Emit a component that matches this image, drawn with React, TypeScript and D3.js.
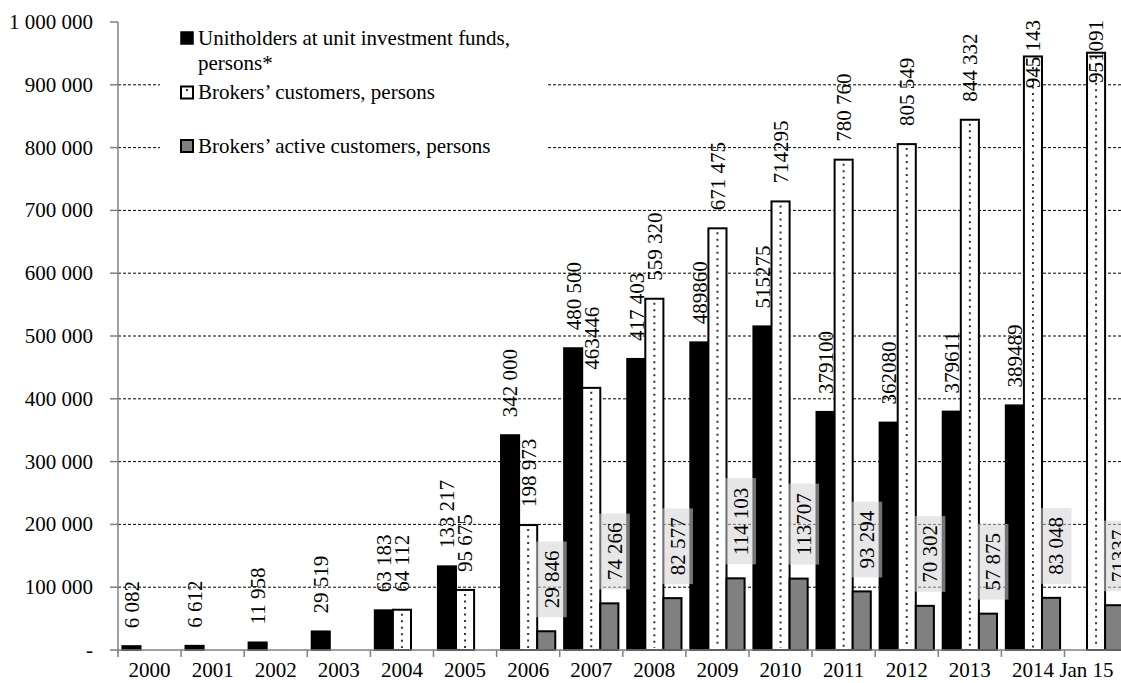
import React from 'react';
import * as d3 from 'd3';

const categories = ['2000', '2001', '2002', '2003', '2004', '2005', '2006', '2007', '2008', '2009', '2010', '2011', '2012', '2013', '2014', 'Jan 15'];

// bar heights
const unitholders = [6082, 6612, 11958, 29519, 63183, 133217, 342000, 480500, 463446, 489860, 515275, 379100, 362080, 379611, 389489, null];
const brokers = [null, null, null, null, 64112, 95675, 198973, 417403, 559320, 671475, 714295, 780760, 805549, 844332, 945143, 951091];
const active = [null, null, null, null, null, null, 29846, 74266, 82577, 114103, 113707, 93294, 70302, 57875, 83048, 71337];

// data labels as printed on the chart
const unitholderLabels = ['6 082', '6 612', '11 958', '29 519', '63 183', '133 217', '342 000', '480 500', '417 403', '489860', '515275', '379100', '362080', '379611', '389489', ''];
const brokerLabels = ['', '', '', '', '64 112', '95 675', '198 973', '463446', '559 320', '671 475', '714295', '780 760', '805 549', '844 332', '945 143', '951091'];
const activeLabels = ['', '', '', '', '', '', '29 846', '74 266', '82 577', '114 103', '113707', '93 294', '70 302', '57 875', '83 048', '71337'];

const legendNames = ['Unitholders at unit investment funds,', 'persons*', 'Brokers’ customers, persons', 'Brokers’ active customers, persons'];
const yTicks = [0, 100000, 200000, 300000, 400000, 500000, 600000, 700000, 800000, 900000, 1000000];

const FONT = '"Liberation Serif", "Times New Roman", serif';
const FS = 21;

// rough width of a digit string in Liberation Serif
const textLen = (s: string) => s.split('').reduce((a, c) => a + (c === ' ' ? 0.25 : 0.5), 0) * FS;

export default function App() {
  const W = 1121;
  const H = 683;
  const left = 118;
  const top = 22;
  const bottom = 650;
  const right = 1127.6;

  const x0 = d3.scaleBand<string>().domain(categories).range([left, right]).paddingInner(0.14).paddingOuter(0.07);
  const x1 = d3.scaleBand<string>().domain(['u', 'b', 'a']).range([0, x0.bandwidth()]);
  const y = d3.scaleLinear().domain([0, 1000000]).range([bottom, top]);
  const fmt = (v: number) => (v === 0 ? '-' : d3.format(',')(v).replace(/,/g, ' '));
  const step = x0.step();
  const boundary = (c: string) => (x0(c) as number) - step * x0.paddingOuter();

  const series = [
    { key: 'u', values: unitholders, labels: unitholderLabels, fill: '#000000' },
    { key: 'b', values: brokers, labels: brokerLabels, fill: '#ffffff' },
    { key: 'a', values: active, labels: activeLabels, fill: '#808080' },
  ];

  const bw = x1.bandwidth();

  return (
    <svg width={W} height={H} style={{ display: 'block' }} fontFamily={FONT}>
      <style>{'body{margin:0}'}</style>
      <rect width={W} height={H} fill="#fff" />

      {/* gridlines */}
      {yTicks.filter((t) => t > 0 && t < 1000000).map((t) => (
        <line key={t} x1={left} x2={W} y1={y(t)} y2={y(t)} stroke="#000" strokeWidth={1} strokeDasharray="3 2" />
      ))}

      {/* legend background hides gridlines */}
      <rect x={160} y={20} width={388} height={172} fill="#fff" />

      {/* bars */}
      {series.map((s) =>
        categories.map((c, i) => {
          const v = s.values[i];
          if (v == null) return null;
          const bx = (x0(c) as number) + (x1(s.key) as number);
          return (
            <g key={s.key + c}>
              <rect x={bx} y={y(v)} width={bw} height={bottom - y(v)} fill={s.fill} stroke="#000" strokeWidth={2} />
              {s.key === 'b' && (
                <line x1={bx + bw / 2} x2={bx + bw / 2} y1={y(v) + 4} y2={bottom - 2} stroke="#333" strokeWidth={2} strokeDasharray="2 4.5" />
              )}
            </g>
          );
        })
      )}

      {/* data labels */}
      {series.map((s) =>
        categories.map((c, i) => {
          const v = s.values[i];
          const lab = s.labels[i];
          if (v == null || !lab) return null;
          const cx = (x0(c) as number) + (x1(s.key) as number) + bw / 2;
          const len = textLen(lab);
          if (s.key === 'a') {
            const pad = 9;
            const boxBottom = y(v) - 14;
            const boxH = len + pad * 2;
            const bcx = cx + 5;
            return (
              <g key={'l' + s.key + c}>
                <rect x={bcx - 15.5} y={boxBottom - boxH} width={31} height={boxH} fill="#d4d4d4" fillOpacity={0.55} />
                <text transform={`translate(${bcx},${boxBottom - pad}) rotate(-90)`} dy="0.35em" fontSize={FS} fill="#000">
                  {lab}
                </text>
              </g>
            );
          }
          let startY = y(v) - 18;
          if (startY - len < 20) startY = 20 + len;
          return (
            <text key={'l' + s.key + c} transform={`translate(${cx},${startY}) rotate(-90)`} dy="0.35em" fontSize={FS} fill="#000">
              {lab}
            </text>
          );
        })
      )}

      {/* y axis */}
      <line x1={left} x2={left} y1={top} y2={bottom + 3} stroke="#808080" strokeWidth={1.5} />
      {yTicks.map((t) => (
        <g key={'yt' + t}>
          <line x1={left - 8} x2={left} y1={y(t)} y2={y(t)} stroke="#808080" strokeWidth={1.5} />
          <text x={93} y={y(t)} dy="0.33em" textAnchor="end" fontSize={FS} fill="#000">
            {fmt(t)}
          </text>
        </g>
      ))}

      {/* x axis */}
      <line x1={left} x2={W} y1={bottom} y2={bottom} stroke="#808080" strokeWidth={1.5} />
      {categories.map((c) => {
        const half = c.length * FS * 0.25 + 2;
        const cx = Math.min((x0(c) as number) + x0.bandwidth() / 2, W - 1 - half);
        return (
          <g key={'xt' + c}>
            <line x1={boundary(c)} x2={boundary(c)} y1={bottom} y2={bottom + 7} stroke="#808080" strokeWidth={1.5} />
            <text x={cx} y={677} textAnchor="middle" fontSize={FS} fill="#000">
              {c}
            </text>
          </g>
        );
      })}

      {/* legend */}
      <g>
        <rect x={181} y={32} width={12} height={12} fill="#000" stroke="#000" strokeWidth={1.5} />
        <text x={198} y={45} fontSize={FS}>{legendNames[0]}</text>
        <text x={198} y={70} fontSize={FS}>{legendNames[1]}</text>
        <rect x={181} y={86.5} width={12} height={12} fill="#fff" stroke="#000" strokeWidth={2} />
        <rect x={186} y={89} width={2} height={2} fill="#333" />
        <text x={198} y={99} fontSize={FS}>{legendNames[2]}</text>
        <rect x={181} y={140} width={12} height={12} fill="#808080" stroke="#000" strokeWidth={2} />
        <text x={198} y={153} fontSize={FS}>{legendNames[3]}</text>
      </g>
    </svg>
  );
}
